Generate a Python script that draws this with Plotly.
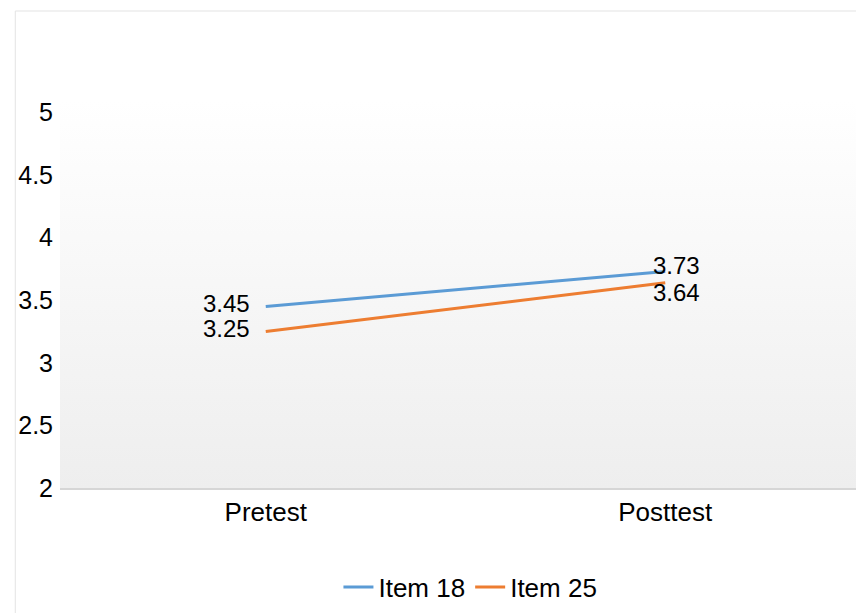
import base64
import plotly.graph_objects as go

categories = ["Pretest", "Posttest"]
series_names = ["Item 18", "Item 25"]
item18 = [3.45, 3.73]
item25 = [3.25, 3.64]
series_values = [item18, item25]
colors = ["#5b9bd5", "#ed7d31"]
y_ticks = [2, 2.5, 3, 3.5, 4, 4.5, 5]
y_tick_labels = ["2", "2.5", "3", "3.5", "4", "4.5", "5"]

FONT = "Liberation Sans, Arial, sans-serif"

fig = go.Figure()
for name, vals, col in zip(series_names, series_values, colors):
    fig.add_trace(go.Scatter(
        x=categories, y=vals, name=name, mode="lines",
        line=dict(color=col, width=3), hoverinfo="x+y+name",
    ))

# data labels
label_shift = {  # (series index, point index) -> (xanchor, xshift, yshift)
    (0, 0): ("right", -14, 3), (1, 0): ("right", -14, 3),
    (0, 1): ("left", -14, 6), (1, 1): ("left", -14, -10),
}
for si, vals in enumerate(series_values):
    for pi, v in enumerate(vals):
        xa, xs, ys = label_shift[(si, pi)]
        fig.add_annotation(x=categories[pi], y=v, text=f"{v:.2f}", showarrow=False,
                           xanchor=xa, yanchor="middle", xshift=xs, yshift=ys,
                           font=dict(size=24, color="black", family=FONT))

svg = ('<svg xmlns="http://www.w3.org/2000/svg" width="100" height="100" preserveAspectRatio="none">'
       '<defs><linearGradient id="g" x1="0" y1="0" x2="0" y2="1">'
       '<stop offset="0" stop-color="#ffffff"/><stop offset="1" stop-color="#eeeeee"/>'
       '</linearGradient></defs><rect width="100" height="100" fill="url(#g)"/></svg>')
src = "data:image/svg+xml;base64," + base64.b64encode(svg.encode()).decode()

# page body has an 8px margin, so figure coordinates are offset by 8px
L, R, T, B = 47, 10, 92, 133
W, H = 864 - L - R, 613 - T - B
BOTTOM = 613 - B

fig.update_layout(
    width=864, height=613,
    margin=dict(l=L, r=R, t=T, b=B, pad=0),
    paper_bgcolor="white", plot_bgcolor="rgba(0,0,0,0)",
    font=dict(family=FONT, color="black"),
    images=[dict(source=src, xref="paper", yref="paper", x=0, y=1, sizex=1, sizey=1,
                 xanchor="left", yanchor="top", sizing="stretch", layer="below")],
    showlegend=True,
    legend=dict(orientation="h", x=(460 - L) / W, xanchor="center",
                y=-(579 - BOTTOM) / H, yanchor="middle",
                font=dict(size=26, color="black", family=FONT),
                bgcolor="rgba(0,0,0,0)", itemwidth=30, tracegroupgap=0),
    xaxis=dict(type="category", range=[-0.515, 1.4925], showgrid=False, zeroline=False,
               showline=True, linecolor="#d6d6d6", linewidth=2, ticks="",
               tickfont=dict(size=26, color="black", family=FONT), fixedrange=True),
    yaxis=dict(range=[2, 5.1], tickvals=y_ticks, ticktext=y_tick_labels, showgrid=False,
               zeroline=False, showline=False, ticks="", ticklabelstandoff=6,
               tickfont=dict(size=25, color="black", family=FONT), fixedrange=True),
    shapes=[
        dict(type="line", xref="paper", yref="paper", x0=(2 - L) / W, x1=(2 - L) / W,
             y0=-(613 - BOTTOM) / H - 0.1, y1=(BOTTOM - 3) / H, line=dict(color="#e3e3e3", width=1)),
        dict(type="line", xref="paper", yref="paper", x0=(2 - L) / W, x1=1.1,
             y0=(BOTTOM - 3) / H, y1=(BOTTOM - 3) / H, line=dict(color="#e3e3e3", width=1)),
        dict(type="line", xref="paper", yref="paper", x0=1, x1=1, y0=0, y1=1,
             line=dict(color="#e6e6e6", width=1)),
    ],
)

fig.write_html("out.html")
